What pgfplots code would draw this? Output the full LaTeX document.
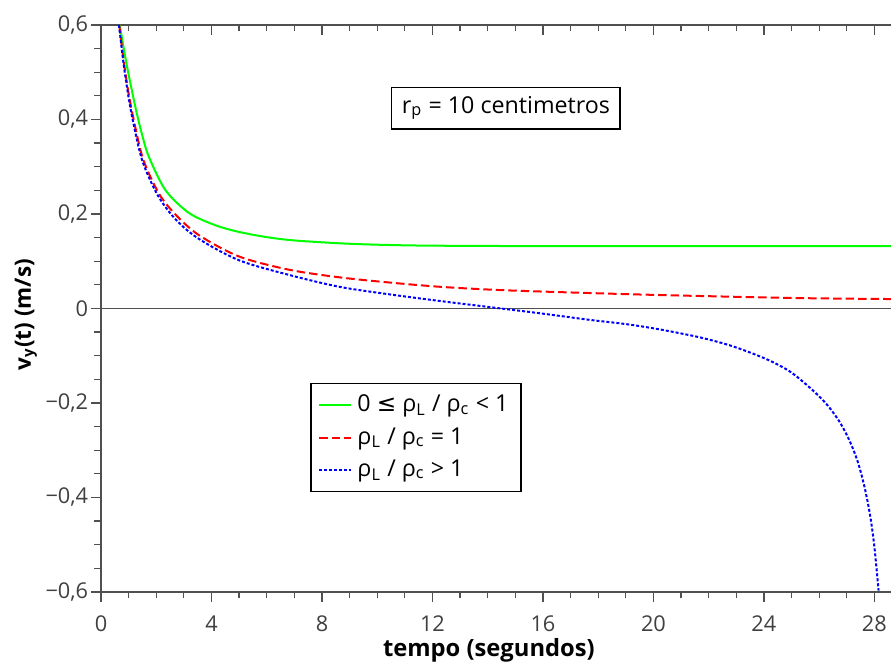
\documentclass[border=0pt]{standalone}
\usepackage{fontspec}
\setmainfont{Open Sans}
\newfontfamily\dejavu{DejaVu Sans}
\usepackage{pgfplots}
\pgfplotsset{compat=1.18}

\definecolor{tickgray}{HTML}{404040}
\definecolor{axgray}{HTML}{505050}
\definecolor{cgreen}{HTML}{00FF00}
\definecolor{cred}{HTML}{FF0000}
\definecolor{cblue}{HTML}{0000FF}

\begin{document}
\begin{tikzpicture}
\pgfplotsset{
  base/.style={
    scale only axis,
    width=316pt, height=226.8pt,
    xmin=0, xmax=28.6,
    ymin=-0.6, ymax=0.6,
    xtick={0,4,...,28},
    ytick={-0.6,-0.4,...,0.6},
    minor x tick num=3,
    minor y tick num=3,
    major tick length=4pt,
    minor tick length=2.6pt,
    tick style={axgray, line width=0.5pt},
    axis line style={axgray, line width=0.6pt, -},
  }
}
% top border with ticks hanging down
\begin{axis}[base,
  axis x line*=top, axis y line=none,
  tick align=inside,
  xticklabels={},
]
\end{axis}
\begin{axis}[base, name=ax,
  axis x line*=bottom, axis y line*=left,
  tick align=outside,
  x axis line style={-}, y axis line style={-},
  ticklabel style={font=\fontsize{8.7}{10}\selectfont, text=tickgray},
  xticklabel style={yshift=-2pt},
  yticklabel style={xshift=2.4pt},
  xticklabels={0,4,8,12,16,20,24,28},
  yticklabels={−0{,}6,−0{,}4,−0{,}2,0,0{,}2,0{,}4,0{,}6},
  extra y ticks={0},
  extra y tick labels={},
  extra y tick style={grid=major, major grid style={axgray, line width=0.5pt}, tick style={draw=none}},
  xlabel={\bfseries tempo (segundos)},
  ylabel={\bfseries v\textsubscript{y}(t) (m/s)},
  xlabel style={font=\fontsize{9.5}{11}\selectfont, at={(axis description cs:0.491,-0.1023)}, anchor=center},
  ylabel style={font=\fontsize{9}{11}\selectfont, at={(axis description cs:-0.095,0.489)}, anchor=center},
  legend style={at={(0.265,0.369)}, anchor=north west, draw=black, line width=0.5pt,
    font=\fontsize{9.3}{11}\selectfont, inner xsep=3pt, inner ysep=2.6pt, row sep=0.8pt},
  legend cell align=left,
  legend image code/.code={\draw[#1, line width=0.8pt] (0pt,0pt) -- (12.8pt,0pt);},
]
\addplot[cgreen, line width=0.8pt, smooth] coordinates {
  (0.68,0.600) (0.90,0.525) (1.13,0.458) (1.30,0.412) (1.50,0.365) (1.74,0.320)
  (2.34,0.250) (3.19,0.202) (4.15,0.176) (5.0,0.162) (6.0,0.151) (7.0,0.144)
  (8.62,0.138) (10.0,0.135) (11.88,0.133) (16.0,0.132) (22.0,0.132) (28.6,0.132)
};
\addlegendentry{0 {\dejavu ≤} ρ\textsubscript{L} / ρ\textsubscript{c} < 1}
\addplot[cred, line width=0.8pt, dash pattern=on 3.4pt off 1.6pt, smooth] coordinates {
  (0.66,0.600) (0.83,0.520) (1.01,0.452) (1.20,0.395) (1.53,0.315) (2.10,0.243)
  (2.71,0.198) (3.55,0.155) (5.0,0.110) (6.81,0.082) (8.62,0.066) (10.43,0.055)
  (12.25,0.046) (14.06,0.040) (15.87,0.036) (20.2,0.0285) (25.3,0.022) (28.6,0.020)
};
\addlegendentry{ρ\textsubscript{L} / ρ\textsubscript{c} = 1}
\addplot[cblue, line width=0.8pt, dash pattern=on 1.2pt off 0.8pt, smooth] coordinates {
  (0.65,0.600) (0.82,0.517) (0.99,0.450) (1.17,0.393) (1.50,0.312) (2.05,0.240)
  (2.71,0.188) (3.55,0.147) (5.0,0.102) (6.81,0.071) (8.62,0.046) (10.43,0.030)
  (12.25,0.016) (14.06,0.003) (15.87,-0.010) (17.68,-0.024) (19.0,-0.033)
  (20.2,-0.044) (21.67,-0.061) (22.87,-0.080) (24.08,-0.107) (24.93,-0.133)
  (25.65,-0.167) (26.26,-0.202) (26.74,-0.240) (27.10,-0.280) (27.40,-0.325)
  (27.65,-0.380) (27.85,-0.440) (28.0,-0.505) (28.15,-0.597)
};
\addlegendentry{ρ\textsubscript{L} / ρ\textsubscript{c} > 1}
\node[draw=black, line width=0.5pt, fill=white, inner xsep=4pt, inner ysep=3.6pt,
  font=\fontsize{9.3}{11}\selectfont] at (axis cs:14.66,0.424)
  {r\textsubscript{p} = 10 centimetros};
\end{axis}
\pgfresetboundingbox
\path[use as bounding box] ([xshift=-40.4pt,yshift=-28.8pt]ax.south west)
  rectangle ([yshift=10pt]ax.north east);
\end{tikzpicture}
\end{document}
